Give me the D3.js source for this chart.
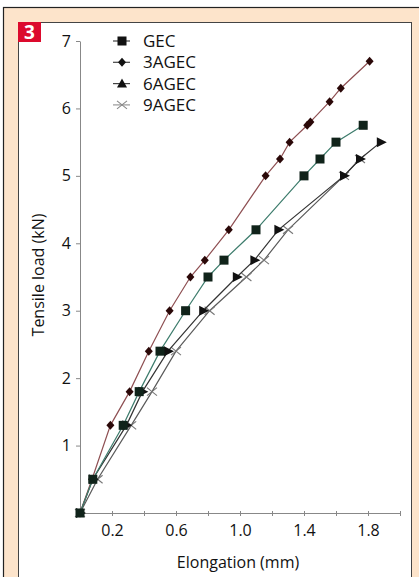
<!DOCTYPE html>
<html>
<head>
<meta charset="utf-8">
<script src="https://cdn.jsdelivr.net/npm/d3@7"></script>
<style>
  body { margin: 0; background: #fff; }
  svg { display: block; font-family: "Open Sans", "Noto Sans", sans-serif; }
</style>
</head>
<body>
<div id="chart"></div>
<script>
// values
var seriesNames = ["GEC", "3AGEC", "6AGEC", "9AGEC"];

var gecX = [0, 0.08, 0.27, 0.37, 0.5, 0.66, 0.8, 0.9, 1.1, 1.4, 1.5, 1.6, 1.77];
var gecY = [0, 0.5, 1.3, 1.8, 2.4, 3.0, 3.5, 3.75, 4.2, 5.0, 5.25, 5.5, 5.75];

var ag3X = [0, 0.075, 0.19, 0.31, 0.43, 0.56, 0.69, 0.78, 0.93, 1.16, 1.25, 1.31, 1.42, 1.44, 1.56, 1.63, 1.81];
var ag3Y = [0, 0.5, 1.3, 1.8, 2.4, 3.0, 3.5, 3.75, 4.2, 5.0, 5.25, 5.5, 5.75, 5.8, 6.1, 6.3, 6.7];

var ag6X = [0, 0.08, 0.29, 0.39, 0.55, 0.77, 0.98, 1.09, 1.24, 1.65, 1.75, 1.88];
var ag6Y = [0, 0.5, 1.3, 1.8, 2.4, 3.0, 3.5, 3.75, 4.2, 5.0, 5.25, 5.5];

var ag9X = [0, 0.11, 0.32, 0.45, 0.6, 0.81, 1.04, 1.15, 1.3, 1.65, 1.75];
var ag9Y = [0, 0.5, 1.3, 1.8, 2.4, 3.0, 3.5, 3.75, 4.2, 5.0, 5.25];

var xTickValues = [0.2, 0.4, 0.6, 0.8, 1.0, 1.2, 1.4, 1.6, 1.8, 2.0];
var xTickLabels = [0.2, 0.6, 1.0, 1.4, 1.8];
var yTickValues = [1, 2, 3, 4, 5, 6, 7];

var width = 419, height = 577;

var svg = d3.select("#chart").append("svg")
    .attr("width", width)
    .attr("height", height);

// frame: peach surround, white panel, red figure number
svg.append("rect").attr("x", 0).attr("y", 0).attr("width", width).attr("height", height).attr("fill", "#fff");
svg.append("rect").attr("x", 3.5).attr("y", 7.5).attr("width", 420).attr("height", 580)
    .attr("fill", "#fde4cb").attr("stroke", "#222").attr("stroke-width", 1.2);
svg.append("rect").attr("x", 18.5).attr("y", 22.5).attr("width", 393).attr("height", 560)
    .attr("fill", "#fff").attr("stroke", "#444").attr("stroke-width", 1);
svg.append("rect").attr("x", 18).attr("y", 22).attr("width", 23).attr("height", 20).attr("fill", "#dc0a2d");
svg.append("text").attr("x", 29.5).attr("y", 39).attr("text-anchor", "middle")
    .attr("fill", "#fff").attr("font-size", 19).attr("font-weight", "bold").text("3");

var x = d3.scaleLinear().domain([0, 2]).range([80, 400]);
var y = d3.scaleLinear().domain([0, 7]).range([513, 41]);

// axes
var xAxis = svg.append("g").attr("transform", "translate(0," + y(0) + ")")
    .call(d3.axisBottom(x).tickValues(xTickValues).tickSize(4).tickSizeOuter(0)
        .tickFormat(function (d) {
            return xTickLabels.some(function (t) { return Math.abs(t - d) < 1e-9; }) ? d3.format(".1f")(d) : "";
        }));
xAxis.select(".domain").attr("stroke", "#888");
xAxis.selectAll(".tick line").attr("stroke", "#888").attr("y1", -2).attr("y2", 3);
xAxis.selectAll(".tick text").attr("font-size", 16).attr("fill", "#111").attr("dy", "1.0em")
    .attr("font-family", "'Open Sans', sans-serif");

var yAxis = svg.append("g").attr("transform", "translate(" + x(0) + ",0)")
    .call(d3.axisLeft(y).tickValues(yTickValues).tickSize(4).tickSizeOuter(0).tickFormat(d3.format("d")));
yAxis.select(".domain").attr("stroke", "#888");
yAxis.selectAll(".tick line").attr("stroke", "#888");
yAxis.selectAll(".tick text").attr("font-size", 16).attr("fill", "#111").attr("x", -9)
    .attr("font-family", "'Open Sans', sans-serif");

svg.append("text").attr("x", 238).attr("y", 568).attr("text-anchor", "middle")
    .attr("font-size", 16).attr("fill", "#111").text("Elongation (mm)");
svg.append("text").attr("transform", "translate(44,275) rotate(-90)").attr("text-anchor", "middle")
    .attr("font-size", 16).attr("fill", "#111").text("Tensile load (kN)");

// series
var series = [
    { name: seriesNames[0], xs: gecX, ys: gecY, line: "#3d7c6c", mark: "#10231a", sym: "square", leg: "square" },
    { name: seriesNames[1], xs: ag3X, ys: ag3Y, line: "#8e4f52", mark: "#2a0808", sym: "diamond", leg: "diamond" },
    { name: seriesNames[2], xs: ag6X, ys: ag6Y, line: "#333", mark: "#111", sym: "triangle", leg: "up" },
    { name: seriesNames[3], xs: ag9X, ys: ag9Y, line: "#5a5a5a", mark: "#777", sym: "cross", leg: "cross" }
];

function drawMarker(g, sym, color, cx, cy) {
    var t = "translate(" + cx + "," + cy + ")";
    if (sym === "square") {
        g.append("rect").attr("x", cx - 4.5).attr("y", cy - 4.5).attr("width", 9).attr("height", 9).attr("fill", color);
    } else if (sym === "diamond") {
        g.append("path").attr("d", "M0,-4.5L4,0L0,4.5L-4,0Z").attr("transform", t).attr("fill", color);
    } else if (sym === "triangle") {
        g.append("path").attr("d", "M-4,-5L6,0L-4,5Z").attr("transform", t).attr("fill", color);
    } else if (sym === "up") {
        g.append("path").attr("d", "M0,-5L5,4L-5,4Z").attr("transform", t).attr("fill", color);
    } else {
        g.append("path").attr("d", "M-5,-4L5,4M-5,4L5,-4").attr("transform", t)
            .attr("stroke", color).attr("stroke-width", 1.1).attr("fill", "none");
    }
}

var line = d3.line().x(function (d) { return x(d[0]); }).y(function (d) { return y(d[1]); });

series.slice().reverse().forEach(function (s) {
    var pts = s.xs.map(function (v, i) { return [v, s.ys[i]]; });
    var g = svg.append("g");
    g.append("path").datum(pts).attr("d", line).attr("fill", "none")
        .attr("stroke", s.line).attr("stroke-width", 1.2);
    pts.forEach(function (p) { drawMarker(g, s.sym, s.mark, x(p[0]), y(p[1])); });
});

// legend
var legend = svg.append("g");
series.forEach(function (s, i) {
    var ly = 41 + i * 21.3;
    var lg = legend.append("g");
    lg.append("line").attr("x1", 113).attr("x2", 130).attr("y1", ly).attr("y2", ly)
        .attr("stroke", s.sym === "cross" ? "#999" : "#444").attr("stroke-width", 1.2);
    drawMarker(lg, s.leg, s.sym === "cross" ? "#888" : "#111", 122, ly);
    lg.append("text").attr("x", 143).attr("y", ly + 6).attr("font-size", 17).attr("fill", "#111").text(s.name);
});
</script>
</body>
</html>
